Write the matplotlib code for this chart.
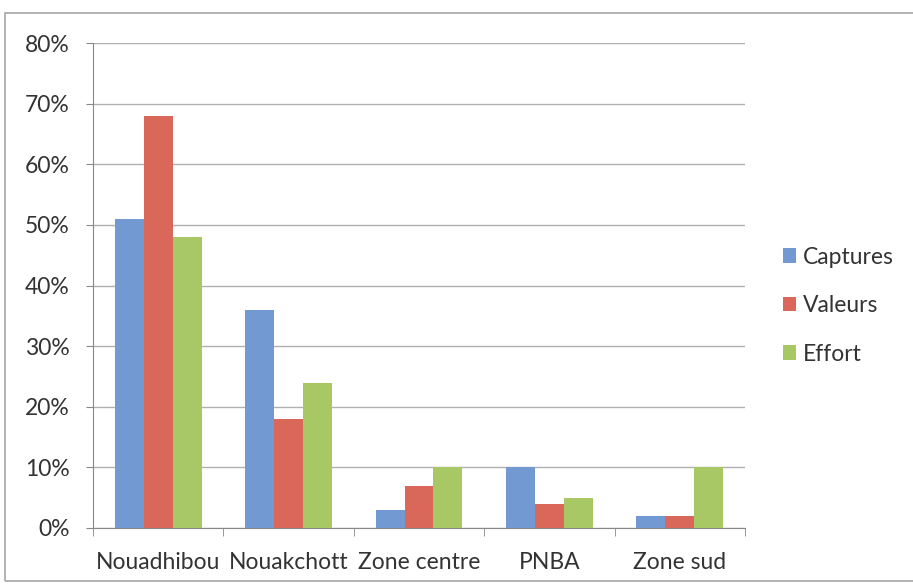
import numpy as np
from matplotlib import pyplot as plt
from matplotlib.patches import Rectangle
from matplotlib.ticker import PercentFormatter

categories = ["Nouadhibou", "Nouakchott", "Zone centre", "PNBA", "Zone sud"]
captures = [51, 36, 3, 10, 2]
valeurs = [68, 18, 7, 4, 2]
effort = [48, 24, 10, 5, 10]
y_ticks = [0, 10, 20, 30, 40, 50, 60, 70, 80]

plt.rcParams["font.family"] = ["Lato", "DejaVu Sans"]

W, H = 913, 584
fs = 16.5
fig = plt.figure(figsize=(W / 100, H / 100), dpi=100)
ax = fig.add_axes([93 / W, 1 - 528 / H, (745 - 93) / W, (528 - 43) / H])

# outer chart frame
fig.patches.append(Rectangle((5 / W, 0.005), 1.2, 1 - 13 / H - 0.005,
                             transform=fig.transFigure, fill=False,
                             edgecolor="#a6a6a6", linewidth=1.2))

x = np.arange(len(categories))
w = 0.222
series = [("Captures", captures, "#7399d2"),
          ("Valeurs", valeurs, "#d9675a"),
          ("Effort", effort, "#a8c866")]
for i, (name, vals, col) in enumerate(series):
    ax.bar(x + (i - 1) * w, vals, width=w, color=col, label=name, zorder=3)

ax.set_xlim(-0.5, len(categories) - 0.5)
ax.set_ylim(0, 80)
ax.set_yticks(y_ticks)
ax.yaxis.set_major_formatter(PercentFormatter(decimals=0))
ax.grid(axis="y", color="#b0b0b0", linewidth=1, zorder=0)

ax.set_xticks(x)
ax.set_xticklabels(categories, fontsize=fs, color="#333333")
ax.set_xticks(np.arange(len(categories) + 1) - 0.5, minor=True)
ax.tick_params(axis="x", which="major", length=0, pad=17)
ax.tick_params(axis="x", which="minor", length=6, color="#888888")
ax.tick_params(axis="y", length=5, color="#888888", labelsize=fs,
               labelcolor="#333333", pad=12)

for s in ["top", "right"]:
    ax.spines[s].set_visible(False)
ax.spines["left"].set_color("#888888")
ax.spines["bottom"].set_color("#888888")

leg = fig.legend(loc="upper left", bbox_to_anchor=(762 / W, 1 - 226 / H),
                 frameon=False, fontsize=fs, handlelength=0.6,
                 handleheight=0.6, handletextpad=0.3, labelspacing=1.2)
for t in leg.get_texts():
    t.set_color("#333333")

fig.savefig("out.png", dpi=100)
